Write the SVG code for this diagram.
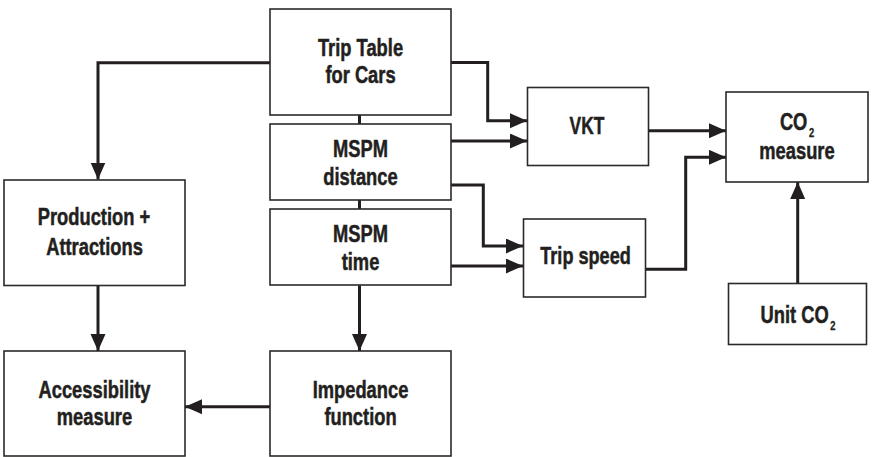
<svg xmlns="http://www.w3.org/2000/svg" width="872" height="457" viewBox="0 0 872 457">
<defs>
<style>
.box{fill:#fff;stroke:#2b2a29;stroke-width:1.6}
.t{font-family:"Liberation Sans",Arial,sans-serif;font-weight:bold;font-size:23.5px;text-anchor:middle;fill:#231f20;stroke:#231f20;stroke-width:0.5}
.c{fill:none;stroke:#231f20;stroke-width:3}
.s{font-size:12px;stroke-width:0.3}
</style>
<marker id="ah" markerUnits="userSpaceOnUse" markerWidth="18" markerHeight="16" refX="17" refY="7.5" orient="auto">
<path d="M0,0 L17,7.5 L0,15 z" fill="#231f20"/>
</marker>
</defs>
<rect width="872" height="457" fill="#fff"/>
<g id="connectors">
<path class="c" d="M359.5,115 V124"/>
<path class="c" d="M359.5,200 V209"/>
<path class="c" d="M270,62.7 H98 V179.5" marker-end="url(#ah)"/>
<path class="c" d="M451,62.5 H487.7 V120.7 H527" marker-end="url(#ah)"/>
<path class="c" d="M451,141 H527" marker-end="url(#ah)"/>
<path class="c" d="M451,185 H483.3 V246 H523" marker-end="url(#ah)"/>
<path class="c" d="M451,266 H523" marker-end="url(#ah)"/>
<path class="c" d="M649,130.7 H726" marker-end="url(#ah)"/>
<path class="c" d="M645,269.3 H685.7 V157.3 H726" marker-end="url(#ah)"/>
<path class="c" d="M797.7,283.3 V182" marker-end="url(#ah)"/>
<path class="c" d="M98,285.3 V351" marker-end="url(#ah)"/>
<path class="c" d="M359.5,285.3 V351" marker-end="url(#ah)"/>
<path class="c" d="M270,406.7 H185" marker-end="url(#ah)"/>
</g>
<g id="trip-table">
<rect class="box" x="270" y="9" width="181" height="106"/>
<text class="t" transform="translate(360.5,55.7) scale(0.78,1)">Trip Table</text>
<text class="t" transform="translate(360.5,83.3) scale(0.78,1)">for Cars</text>
</g>
<g id="mspm-distance">
<rect class="box" x="270" y="124" width="181" height="76"/>
<text class="t" transform="translate(360.5,156.7) scale(0.78,1)">MSPM</text>
<text class="t" transform="translate(360.5,185) scale(0.78,1)">distance</text>
</g>
<g id="mspm-time">
<rect class="box" x="270" y="209" width="181" height="76"/>
<text class="t" transform="translate(360.5,241.7) scale(0.78,1)">MSPM</text>
<text class="t" transform="translate(360.5,270) scale(0.78,1)">time</text>
</g>
<g id="production">
<rect class="box" x="4" y="180" width="181" height="105.5"/>
<text class="t" transform="translate(94,225) scale(0.78,1)">Production +</text>
<text class="t" transform="translate(94.5,255) scale(0.78,1)">Attractions</text>
</g>
<g id="accessibility">
<rect class="box" x="4" y="351" width="181" height="105"/>
<text class="t" transform="translate(94.5,397.7) scale(0.78,1)">Accessibility</text>
<text class="t" transform="translate(94.5,425) scale(0.78,1)">measure</text>
</g>
<g id="impedance">
<rect class="box" x="270" y="351" width="181" height="105"/>
<text class="t" transform="translate(360.5,397.7) scale(0.78,1)">Impedance</text>
<text class="t" transform="translate(360.5,425) scale(0.78,1)">function</text>
</g>
<g id="vkt">
<rect class="box" x="527.5" y="87.5" width="121" height="78"/>
<text class="t" transform="translate(587,134) scale(0.74,1)">VKT</text>
</g>
<g id="trip-speed">
<rect class="box" x="523.5" y="219" width="122" height="78"/>
<text class="t" transform="translate(585.5,264.3) scale(0.77,1)">Trip speed</text>
</g>
<g id="co2-measure">
<rect class="box" x="726" y="92" width="142" height="90"/>
<text class="t" transform="translate(797,130) scale(0.78,1)">CO<tspan class="s" dx="2" dy="7">2</tspan></text>
<text class="t" transform="translate(797,159) scale(0.78,1)">measure</text>
</g>
<g id="unit-co2">
<rect class="box" x="728.5" y="283.5" width="138" height="61"/>
<text class="t" transform="translate(798,322.7) scale(0.78,1)">Unit CO<tspan class="s" dx="2" dy="7">2</tspan></text>
</g>
</svg>
